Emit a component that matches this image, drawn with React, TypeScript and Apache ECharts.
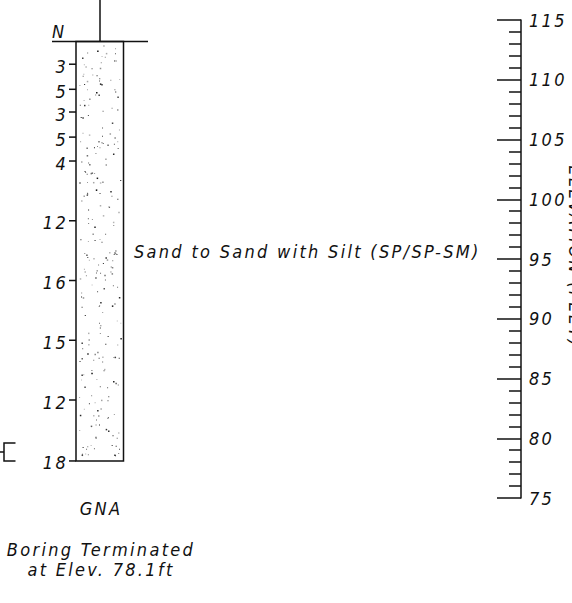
import React, { useEffect, useRef } from "react";
import * as echarts from "echarts";

// ---- data ----
const elevationMin = 75;
const elevationMax = 115;
const elevationInterval = 5;
const axisTitle = "ELEVATION (FEET)";

const layerTop = 113.2;
const layerBottom = 78.1;
const layerDescription = "Sand to Sand with Silt (SP/SP-SM)";

const sampleElevations = [111.3, 109.2, 107.3, 105.2, 103.2, 98.2, 93.2, 88.2, 83.2, 78.1];
const blowCounts = [3, 5, 3, 5, 4, 12, 16, 15, 12, 18];
const blowHeader = "N";

const bracketTop = 79.6;
const bracketBottom = 78.1;

const groundwaterNote = "GNA";
const terminationNote = "Boring Terminated\nat Elev. 78.1ft";

// ---- layout / style ----
const ink = "#111111";
const fontFamily = "'DejaVu Sans Condensed', 'DejaVu Sans', sans-serif";
const fontSize = 18;
const colLeft = 76;
const colRight = 123.5;
const topLineLeft = 52;
const topLineRight = 148;
const colCenter = 100;

function makeRng(seed: number) {
  let a = seed >>> 0;
  return () => {
    a = (a + 0x6d2b79f5) >>> 0;
    let t = a;
    t = Math.imul(t ^ (t >>> 15), t | 1);
    t ^= t + Math.imul(t ^ (t >>> 7), t | 61);
    return ((t ^ (t >>> 14)) >>> 0) / 4294967296;
  };
}

const textStyle = (extra: any) => ({
  fontFamily,
  fontSize,
  fontStyle: "italic",
  fill: ink,
  ...extra,
});

export default function App() {
  const ref = useRef<HTMLDivElement>(null);

  useEffect(() => {
    const chart = echarts.init(ref.current!, null, { renderer: "svg" });

    const option: any = {
      animation: false,
      grid: { left: 0, right: 51, top: 20, bottom: 105, containLabel: false, outerBoundsMode: "none" },
      xAxis: { type: "value", min: 0, max: 521, show: false },
      yAxis: {
        type: "value",
        position: "right",
        min: elevationMin,
        max: elevationMax,
        interval: elevationInterval,
        axisLine: { show: true, onZero: false, lineStyle: { color: ink, width: 1.5 } },
        axisTick: { show: true, inside: true, length: 24, lineStyle: { color: ink, width: 1.5 } },
        minorTick: { show: true, splitNumber: 5, length: 12, lineStyle: { color: ink, width: 1.5 } },
        axisLabel: { margin: 8, fontFamily, fontSize, fontStyle: "italic", color: ink },
        splitLine: { show: false },
      },
      series: [
        {
          type: "custom",
          name: "layer",
          data: [[0, layerTop, layerBottom]],
          encode: { x: 0, y: [1, 2] },
          renderItem: (params: any, api: any) => {
            const top = api.value(1);
            const bottom = api.value(2);
            const yTop = api.coord([0, top])[1];
            const yBot = api.coord([0, bottom])[1];
            const yMid = api.coord([0, (top + bottom) / 2])[1];
            const rng = makeRng(20240611);
            const children: any[] = [];
            const w = colRight - colLeft;
            const h = yBot - yTop;
            const count = Math.round((w * h) / 80);
            for (let i = 0; i < count; i++) {
              const cx = colLeft + 3 + rng() * (w - 6);
              const cy = yTop + 3 + rng() * (h - 6);
              const shade = Math.floor(20 + rng() * 170);
              const s = rng() < 0.3 ? 1.5 : 1;
              children.push({
                type: "rect",
                shape: { x: cx, y: cy, width: s, height: s },
                style: { fill: `rgb(${shade},${shade},${shade})` },
              });
            }
            children.push({
              type: "rect",
              shape: { x: colLeft, y: yTop, width: w, height: h },
              style: { fill: "none", stroke: ink, lineWidth: 1.5 },
            });
            children.push({
              type: "line",
              shape: { x1: topLineLeft, y1: yTop, x2: topLineRight, y2: yTop },
              style: { stroke: ink, lineWidth: 1.5 },
            });
            children.push({
              type: "line",
              shape: { x1: colCenter, y1: 0, x2: colCenter, y2: yTop },
              style: { stroke: ink, lineWidth: 1.5 },
            });
            children.push({
              type: "text",
              style: textStyle({ text: blowHeader, x: topLineLeft, y: yTop - 1, align: "left", verticalAlign: "bottom" }),
            });
            children.push({
              type: "text",
              style: textStyle({ text: layerDescription, x: 134, y: yMid, align: "left", verticalAlign: "middle" }),
            });
            return { type: "group", children };
          },
        },
        {
          type: "custom",
          name: "blows",
          data: sampleElevations.map((e, i) => [0, e, blowCounts[i]]),
          encode: { x: 0, y: 1 },
          renderItem: (params: any, api: any) => {
            const y = api.coord([0, api.value(1)])[1];
            return {
              type: "group",
              children: [
                {
                  type: "line",
                  shape: { x1: 69, y1: y, x2: colLeft, y2: y },
                  style: { stroke: ink, lineWidth: 1.5 },
                },
                {
                  type: "text",
                  style: textStyle({ text: String(api.value(2)), x: 68, y: y + 2, align: "right", verticalAlign: "middle" }),
                },
              ],
            };
          },
        },
        {
          type: "custom",
          name: "sampler",
          data: [[0, bracketTop, bracketBottom]],
          encode: { x: 0, y: [1, 2] },
          renderItem: (params: any, api: any) => {
            const yT = api.coord([0, api.value(1)])[1];
            const yB = api.coord([0, api.value(2)])[1];
            return {
              type: "group",
              children: [
                {
                  type: "polyline",
                  shape: { points: [[15.5, yT], [4, yT], [4, yB], [15.5, yB]] },
                  style: { stroke: ink, lineWidth: 1.5, fill: "none" },
                },
                {
                  type: "line",
                  shape: { x1: 0, y1: (yT + yB) / 2, x2: 4, y2: (yT + yB) / 2 },
                  style: { stroke: ink, lineWidth: 1.5 },
                },
              ],
            };
          },
        },
      ],
      graphic: [
        {
          type: "text",
          x: colCenter + 1,
          y: 508,
          style: textStyle({ text: groundwaterNote, align: "center", verticalAlign: "middle" }),
        },
        {
          type: "text",
          x: colCenter + 1,
          y: 559,
          style: textStyle({ text: terminationNote, align: "center", verticalAlign: "middle", lineHeight: 20 }),
        },
        {
          type: "text",
          x: 575,
          y: 257,
          rotation: -Math.PI / 2,
          style: textStyle({ text: axisTitle, align: "center", verticalAlign: "middle" }),
        },
      ],
    };

    chart.setOption(option);
    return () => chart.dispose();
  }, []);

  return (
    <>
      <style>{`.boring-log svg text { letter-spacing: 2.3px; }`}</style>
      <div
        className="boring-log"
        ref={ref}
        style={{ position: "absolute", left: 0, top: 0, width: 572, height: 603 }}
      />
    </>
  );
}
